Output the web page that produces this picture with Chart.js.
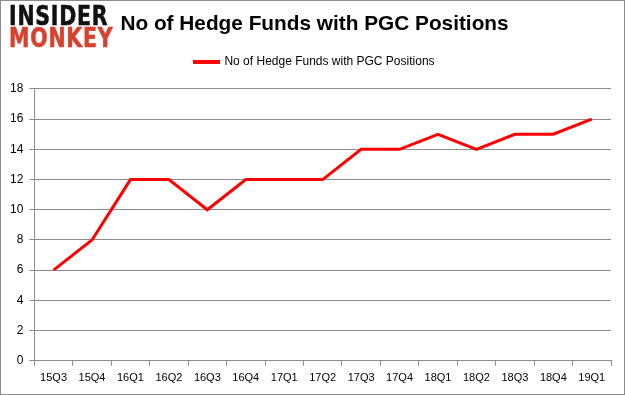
<!DOCTYPE html>
<html>
<head>
<meta charset="utf-8">
<script src="https://cdn.jsdelivr.net/npm/chart.js@4"></script>
<style>
    html, body { margin: 0; padding: 0; background: #fff; }
    .frame {
        position: relative;
        width: 625px;
        height: 395px;
        box-sizing: border-box;
        border: 1px solid #8c8c8c;
    }
    .logo {
        position: absolute;
        left: 8px;
        top: 4px;
        font-family: "DejaVu Sans", sans-serif;
        font-weight: bold;
        font-size: 27px;
        line-height: 22px;
        transform-origin: 0 0;
        transform: scaleX(0.76);
        letter-spacing: 1px;
        -webkit-text-stroke: 0.6px currentColor;
    }
    .logo .a { color: #111; }
    .logo .b { color: #d9412e; }
    canvas { display: block; }
</style>
</head>
<body>
<div class="frame">
    <canvas id="pgcChart" width="623" height="393"></canvas>
    <div class="logo"><div class="a">INSIDER</div><div class="b">MONKEY</div></div>
</div>
<script>
// дані графіка
const quarters = ['15Q3', '15Q4', '16Q1', '16Q2', '16Q3', '16Q4', '17Q1', '17Q2',
    '17Q3', '17Q4', '18Q1', '18Q2', '18Q3', '18Q4', '19Q1'];
const fundCounts = [6, 8, 12, 12, 10, 12, 12, 12, 14, 14, 15, 14, 15, 15, 16];
const yTicks = [0, 2, 4, 6, 8, 10, 12, 14, 16, 18];

const seriesName = 'No of Hedge Funds with PGC Positions';
const gridGray = '#8c8c8c';
const tickFont = { family: 'Liberation Sans', size: 11 };

// додатковий відступ між легендою та областю графіка
const legendGap = {
    id: 'legendGap',
    afterInit(chart) {
        const fit = chart.legend.fit;
        chart.legend.fit = function () {
            fit.call(this);
            this.height += 11;
        };
    }
};

// заголовок і легенда в оригіналі трохи зсунуті праворуч
const headerShift = {
    id: 'headerShift',
    afterLayout(chart) {
        [chart.titleBlock, chart.legend].forEach(box => {
            if (!box) return;
            box.left += 7;
            box.right += 7;
        });
    }
};

const ctx = document.getElementById('pgcChart').getContext('2d');

new Chart(ctx, {
    type: 'line',
    data: {
        labels: quarters,
        datasets: [{
            label: seriesName,
            data: fundCounts,
            borderColor: '#ff0000',
            backgroundColor: '#ff0000',
            borderWidth: 3,
            pointRadius: 0,
            tension: 0,
            fill: false
        }]
    },
    options: {
        responsive: false,
        animation: false,
        layout: {
            padding: { left: 3, right: 13, top: 4, bottom: 3 }
        },
        plugins: {
            title: {
                display: true,
                text: seriesName,
                color: '#000',
                font: { family: 'Liberation Sans', size: 20.8, weight: 'bold' },
                padding: { top: 7, bottom: 7 }
            },
            legend: {
                display: true,
                labels: {
                    color: '#000',
                    boxWidth: 24,
                    boxHeight: 1,
                    font: { family: 'Liberation Sans', size: 12 },
                    padding: 12
                }
            },
            tooltip: { enabled: false }
        },
        scales: {
            x: {
                offset: true,
                grid: {
                    display: true,
                    offset: true,
                    drawOnChartArea: false,
                    tickLength: 5,
                    color: gridGray
                },
                border: { color: gridGray },
                ticks: {
                    color: '#000',
                    font: tickFont,
                    padding: 6,
                    maxRotation: 0,
                    autoSkip: false
                }
            },
            y: {
                min: 0,
                max: 18,
                afterBuildTicks: axis => {
                    axis.ticks = yTicks.map(v => ({ value: v }));
                },
                grid: {
                    color: gridGray,
                    tickLength: 5
                },
                border: { color: gridGray },
                ticks: {
                    color: '#000',
                    font: { family: 'Liberation Sans', size: 12 },
                    padding: 6
                }
            }
        }
    },
    plugins: [legendGap, headerShift]
});
</script>
</body>
</html>
